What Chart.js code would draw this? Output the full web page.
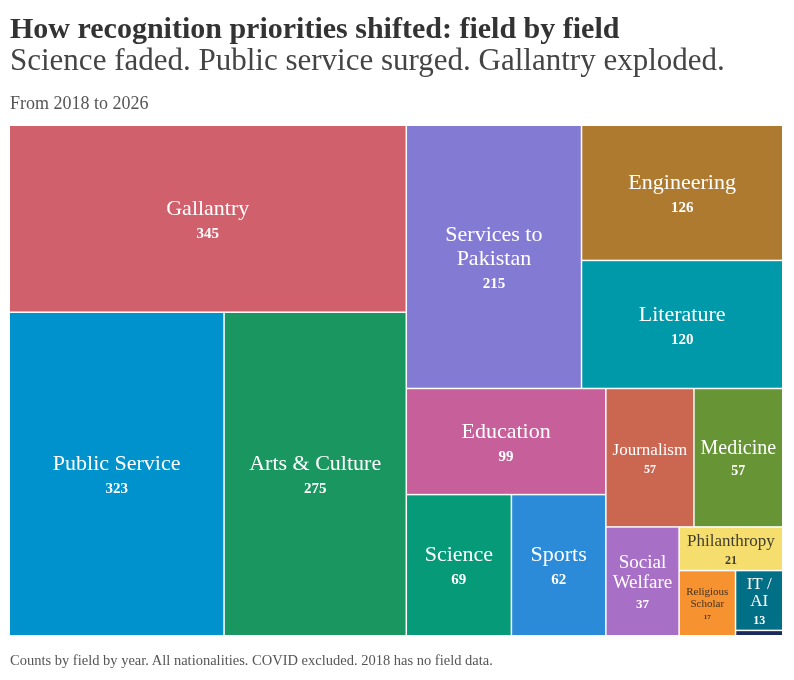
<!DOCTYPE html>
<html>
<head>
<meta charset="utf-8">
<script src="https://cdn.jsdelivr.net/npm/chart.js@4.4.0/dist/chart.umd.min.js"></script>
<style>
  body { margin: 0; background: #fff; width: 794px; height: 680px; position: relative; overflow: hidden; font-family: "Liberation Serif", serif; }
  #wrap { position: absolute; left: 0; top: 0; width: 794px; height: 680px; }
  .t { position: absolute; left: 10px; white-space: nowrap; line-height: 1; }
  #title { top: 13px; font-size: 30px; font-weight: bold; color: #333; }
  #sub { top: 44px; font-size: 31px; color: #444; }
  #range { top: 94px; font-size: 18px; color: #555; }
  #note { top: 653px; font-size: 14.5px; color: #555; }
</style>
</head>
<body>
<div id="wrap"><canvas id="chart"></canvas></div>
<div class="t" id="title">How recognition priorities shifted: field by field</div>
<div class="t" id="sub">Science faded. Public service surged. Gallantry exploded.</div>
<div class="t" id="range">From 2018 to 2026</div>
<div class="t" id="note">Counts by field by year. All nationalities. COVID excluded. 2018 has no field data.</div>
<script>
const fields = ['Gallantry', 'Public Service', 'Arts & Culture', 'Services to Pakistan', 'Engineering', 'Literature',
                'Education', 'Science', 'Sports', 'Journalism', 'Medicine', 'Social Welfare', 'Philanthropy',
                'Religious Scholar', 'IT / AI', 'Other'];
const counts = [345, 323, 275, 215, 126, 120, 99, 69, 62, 57, 57, 37, 21, 17, 13, 1];
const colours = ['#d0606c', '#0092cd', '#1a9660', '#837ad4', '#ae7a30', '#0099a9', '#c75f9b', '#079a78',
                 '#2b8bd9', '#cb6651', '#679536', '#a86fc6', '#f6de6e', '#f6922f', '#016f86', '#1b2a5c'];

// binary treemap split (same idea as d3.treemapBinary)
function binaryLayout(values, area) {
  const sums = [0];
  values.forEach(v => sums.push(sums[sums.length - 1] + v));
  const out = [];
  function part(i, j, value, x0, y0, x1, y1) {
    if (i >= j - 1) { out[i] = {x0, y0, x1, y1}; return; }
    const off = sums[i], target = value / 2 + off;
    let k = i + 1, hi = j - 1;
    while (k < hi) {
      const mid = (k + hi) >>> 1;
      if (sums[mid] < target) k = mid + 1; else hi = mid;
    }
    if (target - sums[k - 1] < sums[k] - target && i + 1 < k) --k;
    const vl = sums[k] - off, vr = value - vl;
    if ((x1 - x0) * area.width > (y1 - y0) * area.height) {
      const xk = (x0 * vr + x1 * vl) / value;
      part(i, k, vl, x0, y0, xk, y1);
      part(k, j, vr, xk, y0, x1, y1);
    } else {
      const yk = (y0 * vr + y1 * vl) / value;
      part(i, k, vl, x0, y0, x1, yk);
      part(k, j, vr, x0, yk, x1, y1);
    }
  }
  part(0, values.length, sums[values.length], 0, 0, 1, 1);
  return out;
}

function fitLabel(ctx, text, w, h) {
  const words = text.split(' ');
  for (let f = 22; f >= 7; f--) {
    ctx.font = f + 'px "Liberation Serif"';
    const lines = [];
    let cur = '', ok = true;
    for (const wd of words) {
      if (ctx.measureText(wd).width > w) { ok = false; break; }
      const tryLine = cur ? cur + ' ' + wd : wd;
      if (ctx.measureText(tryLine).width <= w) cur = tryLine;
      else { lines.push(cur); cur = wd; }
    }
    if (!ok) continue;
    lines.push(cur);
    if (0.7 * f + lines.length * 1.05 * f <= h) return {f, lines};
  }
  return null;
}

function textColour(hex) {
  const r = parseInt(hex.slice(1, 3), 16), g = parseInt(hex.slice(3, 5), 16), b = parseInt(hex.slice(5, 7), 16);
  return (0.299 * r + 0.587 * g + 0.114 * b) > 148 ? 'rgba(30,30,30,0.85)' : '#ffffff';
}

const treemapPlugin = {
  id: 'treemap',
  afterDatasetsDraw(chart) {
    const {ctx, chartArea, scales: {x, y}} = chart;
    const cells = binaryLayout(counts, chartArea);
    const g = 0.75, eps = 1e-9;
    ctx.save();
    cells.forEach((c, i) => {
      let l = x.getPixelForValue(c.x0), r = x.getPixelForValue(c.x1);
      let t = y.getPixelForValue(c.y0), b = y.getPixelForValue(c.y1);
      if (c.x0 > eps) l += g;
      if (c.x1 < 1 - eps) r -= g;
      if (c.y0 > eps) t += g;
      if (c.y1 < 1 - eps) b -= g;
      ctx.fillStyle = colours[i];
      ctx.fillRect(l, t, r - l, b - t);

      const fit = fitLabel(ctx, fields[i], r - l - 10, b - t - 8);
      if (!fit) return;
      const f = fit.f, n = fit.lines.length;
      const blockH = 0.7 * f + n * 1.05 * f;
      const cx = (l + r) / 2;
      const base = (t + b) / 2 - blockH / 2 + 0.7 * f;
      ctx.fillStyle = textColour(colours[i]);
      ctx.textAlign = 'center';
      ctx.textBaseline = 'alphabetic';
      ctx.font = f + 'px "Liberation Serif"';
      fit.lines.forEach((ln, k) => ctx.fillText(ln, cx, base + k * 1.05 * f));
      ctx.font = 'bold ' + Math.round(0.68 * f) + 'px "Liberation Serif"';
      ctx.fillText(String(counts[i]), cx, base + n * 1.05 * f);
    });
    ctx.restore();
  }
};

new Chart(document.getElementById('chart'), {
  type: 'scatter',
  data: { datasets: [{ label: 'Counts', data: [] }] },
  options: {
    responsive: true,
    maintainAspectRatio: false,
    animation: false,
    layout: { padding: { left: 10, top: 126, right: 12, bottom: 45 } },
    scales: {
      x: { type: 'linear', min: 0, max: 1, display: false },
      y: { type: 'linear', min: 0, max: 1, reverse: true, display: false }
    },
    plugins: { legend: { display: false }, tooltip: { enabled: false } }
  },
  plugins: [treemapPlugin]
});
</script>
</body>
</html>
